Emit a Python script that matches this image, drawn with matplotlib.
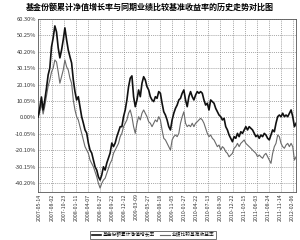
import matplotlib
matplotlib.use("Agg")
import matplotlib.pyplot as plt
import numpy as np

plt.rcParams['font.family'] = ['Noto Sans CJK SC', 'DejaVu Sans']

title = "基金份额累计净值增长率与同期业绩比较基准收益率的历史走势对比图"
fund_label = "基金份额累计净值增长率"
bench_label = "业绩比较基准收益率"

# 基金份额累计净值增长率 (%)
fund = [
    0.3, 5.8, 12.5, 4.6, 10.7, 18.0, 26.0, 30.2, 43.1, 48.6,
    55.9, 52.2, 42.5, 36.4, 41.2, 47.4, 54.7, 47.4, 41.2, 37.1,
    33.3, 23.1, 15.8, 10.7, 12.7, 6.6, 0.5, -3.4, -7.6, -9.5,
    -15.6, -19.9, -21.7, -26.0, -30.1, -32.1, -36.2, -38.2, -35.1, -30.1,
    -32.1, -27.8, -24.8, -21.7, -15.6, -17.8, -15.6, -11.7, -8.7, -5.6,
    -5.6, 0.5, 4.6, 10.7, 18.8, 24.0, 25.4, 12.7, 6.6, 10.7,
    16.8, 12.7, 20.9, 24.9, 22.9, 18.8, 16.8, 12.7, 10.7, 9.7,
    12.7, 11.7, 15.8, 14.8, 8.7, 3.5, 1.5, -1.5, -5.6, -7.6,
    -1.5, 2.6, 5.6, 7.6, 10.7, 11.7, 14.8, 16.8, 10.7, 6.6,
    12.7, 15.8, 12.7, 10.7, 13.7, 15.8, 14.8, 15.8, 14.8, 10.7,
    7.6, 8.7, 4.6, 10.7, 9.7, 8.7, 5.6, 3.5, 1.5, 0.5,
    -1.5, -0.5, -5.6, -7.6, -10.7, -12.7, -14.8, -11.7, -12.7, -9.7,
    -11.7, -8.7, -9.7, -7.6, -5.6, -7.6, -5.6, -6.6, -7.6, -9.7,
    -11.7, -10.7, -12.7, -10.7, -11.7, -9.7, -10.7, -12.7, -13.7, -10.7,
    -7.6, -8.7, -3.5, 0.5, 1.5, 0.5, 2.6, 0.5, 1.5, 0.5,
    2.6, 4.6, 0.5, -5.6, -3.5,
]

# 业绩比较基准收益率 (%)
bench = [
    0.3, 3.4, 8.2, 2.1, 7.0, 13.1, 19.2, 22.9, 27.8, 30.2,
    35.1, 33.9, 27.8, 20.9, 24.9, 29.0, 35.1, 31.0, 29.0, 24.0,
    20.9, 10.7, 4.6, 0.5, -1.5, -5.6, -9.7, -13.7, -17.8, -19.9,
    -21.9, -26.0, -28.0, -30.1, -33.1, -36.2, -40.2, -43.1, -40.2, -38.2,
    -37.1, -34.1, -31.0, -28.0, -26.0, -21.9, -19.9, -17.8, -15.8, -11.7,
    -9.7, -5.6, -3.5, -1.5, 2.6, 4.6, 0.5, -5.6, -9.7, -3.5,
    0.5, -1.5, 2.6, 4.6, 2.6, 0.5, -2.6, -3.5, -5.6, -3.5,
    -1.5, -2.6, 0.5, -1.5, -7.6, -12.7, -13.7, -15.8, -17.8, -19.9,
    -13.7, -11.7, -10.7, -11.7, -9.7, -3.5, 0.5, 3.5, -3.5, -5.6,
    -4.6, -5.6, -3.5, -5.6, -3.5, -2.6, -1.5, -0.5, -1.5, -3.5,
    -6.6, -9.7, -11.7, -10.7, -12.7, -13.7, -15.8, -17.8, -16.8, -19.9,
    -17.8, -18.8, -20.9, -21.9, -24.0, -22.9, -21.9, -18.8, -17.8, -15.8,
    -17.8, -15.8, -14.8, -13.7, -15.8, -16.8, -17.8, -18.8, -19.9, -20.9,
    -21.9, -24.0, -22.9, -24.0, -24.9, -22.9, -21.9, -24.0, -26.0, -28.0,
    -21.9, -17.8, -15.8, -10.7, -11.7, -15.8, -17.8, -18.8, -16.8, -15.8,
    -17.8, -15.8, -17.8, -26.0, -24.0,
]

date_labels = [
    "2007-05-14", "2007-08-02", "2007-10-23", "2008-01-11", "2008-04-07",
    "2008-06-27", "2008-09-22", "2008-12-12", "2009-03-09", "2009-05-27",
    "2009-08-18", "2009-11-05", "2010-01-27", "2010-04-22", "2010-07-13",
    "2010-09-30", "2010-12-22", "2011-03-15", "2011-06-03", "2011-08-24",
    "2011-11-14", "2012-02-06",
]

y_ticks = [60.30, 50.25, 40.20, 30.15, 20.10, 10.05, 0.00,
           -10.05, -20.10, -30.15, -40.20]

fig = plt.figure(figsize=(3.0, 2.4), dpi=100)
ax = fig.add_axes([0.127, 0.202, 0.86, 0.72])

x = np.arange(len(fund))
ax.plot(x, bench, color='#6a6a6a', linewidth=0.8, label=bench_label, zorder=2)
ax.plot(x, fund, color='#111111', linewidth=1.2, label=fund_label, zorder=3)

ax.set_xlim(0, len(fund) - 1)
ax.set_ylim(-45.2, 60.3)

ax.set_yticks(y_ticks)
ax.set_yticklabels([f"{v:.2f}%" for v in y_ticks], fontsize=4.1, color='#333333')
xt = np.linspace(1, len(fund) - 3, len(date_labels))
ax.set_xticks(xt)
ax.set_xticklabels(date_labels, rotation=90, fontsize=3.8, color='#333333')
ax.tick_params(axis='both', length=0, pad=1.5)

ax.grid(True, color='#888888', linestyle=(0, (1.5, 1.5)), linewidth=0.5)
for s in ax.spines.values():
    s.set_color('#555555')
    s.set_linewidth(0.6)

fig.suptitle(title, fontsize=5.8, fontweight='bold', y=0.988)

handles, labels = ax.get_legend_handles_labels()
leg = fig.legend(handles[::-1], labels[::-1], loc='lower center',
                 bbox_to_anchor=(0.51, -0.005), ncol=2, fontsize=3.4,
                 frameon=True, fancybox=False, edgecolor='#333333',
                 handlelength=2.0, columnspacing=1.0, borderpad=0.3,
                 handletextpad=0.4)
leg.get_frame().set_linewidth(0.6)

fig.savefig("out.png", dpi=100)
